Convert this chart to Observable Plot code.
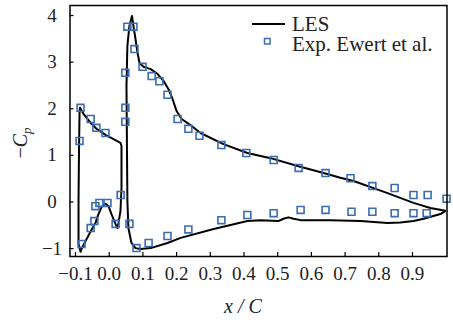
<!DOCTYPE html>
<html><head><meta charset="utf-8">
<script src="https://cdn.jsdelivr.net/npm/d3@7"></script>
<script src="https://cdn.jsdelivr.net/npm/@observablehq/plot@0.6"></script>
<style>
body{margin:0;background:#fff;}
#wrap{position:relative;width:453px;height:322px;}
#wrap svg text{font-family:'Liberation Serif','Times New Roman',serif;}
</style></head><body><div id="wrap"></div>
<script>
// LES curve, slat element (closed loop)
const slatX = [-0.085,-0.091,-0.091,-0.0896,-0.088,-0.0866,-0.0763,-0.0555,-0.0377,-0.011,0.0128,0.0335,0.0365,0.0365,0.0335,0.0276,0.0246,0.0187,0.0068,-0.002,-0.011,-0.0228,-0.0318,-0.0407,-0.0555,-0.0703,-0.0822,-0.085];
const slatY = [-1.07,-0.90,0.02,1.09,1.91,2.02,1.89,1.70,1.57,1.44,1.35,1.27,1.20,0.30,-0.19,-0.45,-0.56,-0.47,-0.26,-0.09,-0.04,-0.11,-0.26,-0.45,-0.64,-0.84,-1.01,-1.07];
// LES curve, main element
const mainX = [0.998,0.983,0.962,0.933,0.903,0.864,0.826,0.746,0.657,0.568,0.547,0.532,0.517,0.502,0.449,0.410,0.310,0.212,0.173,0.123,0.093,0.078,0.066,0.057,0.054,0.0528,0.0513,0.054,0.060,0.0677,0.072,0.078,0.084,0.090,0.102,0.123,0.143,0.161,0.176,0.188,0.200,0.215,0.241,0.271,0.339,0.410,0.479,0.559,0.636,0.686,0.725,0.826,0.903,0.953,0.998];
const mainY = [-0.19,-0.26,-0.30,-0.36,-0.41,-0.44,-0.45,-0.41,-0.39,-0.39,-0.36,-0.33,-0.36,-0.41,-0.39,-0.41,-0.58,-0.77,-0.88,-0.99,-1.01,-0.99,-0.88,-0.56,0.02,1.09,2.49,3.35,3.78,3.99,3.78,3.50,3.20,2.98,2.90,2.85,2.75,2.60,2.42,2.21,1.95,1.78,1.65,1.48,1.24,1.05,0.94,0.77,0.62,0.52,0.45,0.19,-0.02,-0.13,-0.19];
// Experiment (Ewert et al.)
const expX = [-0.085,-0.055,-0.038,-0.011,-0.088,-0.082,-0.055,-0.044,-0.041,-0.029,-0.005,0.019,0.034,
  0.048,0.048,0.054,0.072,0.075,0.048,0.099,0.126,0.149,0.173,0.203,0.235,0.268,0.333,0.407,0.488,0.562,0.642,0.716,0.781,0.847,0.903,0.945,1.001,
  0.060,0.081,0.117,0.173,0.235,0.333,0.410,0.488,0.568,0.642,0.719,0.781,0.847,0.903,0.942];
const expY = [2.02,1.78,1.59,1.48,1.31,-0.90,-0.56,-0.41,-0.09,-0.02,-0.02,-0.47,0.15,
  2.02,1.72,3.76,3.76,3.28,2.77,2.90,2.70,2.59,2.30,1.78,1.57,1.42,1.22,1.05,0.90,0.73,0.62,0.51,0.34,0.30,0.15,0.15,0.07,
  -0.47,-0.99,-0.88,-0.73,-0.59,-0.39,-0.28,-0.24,-0.17,-0.17,-0.21,-0.21,-0.24,-0.24,-0.24];
const xTicks = [-0.1,0,0.1,0.2,0.3,0.4,0.5,0.6,0.7,0.8,0.9];
const yTicks = [-1,0,1,2,3,4];
const xDomain = [-0.1163, 1.0024];
const yDomain = [-1.17, 4.215];
const seriesNames = ["LES", "Exp. Ewert et al."];

const les = [
  ...slatX.map((x,i)=>({x, y: slatY[i], z: "slat"})),
  ...mainX.map((x,i)=>({x, y: mainY[i], z: "main"}))
];
const exp = expX.map((x,i)=>({x, y: expY[i]}));
const blue = "#3a6cb4";
const font = "'Liberation Serif', 'Times New Roman', serif";
const W = 453, H = 322, mL = 69.5, mR = 6.5, mT = 5, mB = 66;
const tickLenY = 4 * (yDomain[1]-yDomain[0]) / (H - mT - mB);
const tickLenX = 4 * (xDomain[1]-xDomain[0]) / (W - mL - mR);
const fmtX = d3.format(".1f");

const chart = Plot.plot({
  width: W, height: H,
  marginLeft: mL, marginRight: mR, marginTop: mT, marginBottom: mB,
  x: {domain: xDomain, axis: null},
  y: {domain: yDomain, axis: null},
  style: {fontFamily: font, background: "white"},
  marks: [
    Plot.ruleX(xTicks, {x: d=>d, y1: yDomain[0], y2: yDomain[0] + tickLenY, stroke: "black", strokeWidth: 1.2}),
    Plot.ruleY(yTicks, {y: d=>d, x1: xDomain[0], x2: xDomain[0] + tickLenX, stroke: "black", strokeWidth: 1.2}),
    Plot.text(xTicks, {x: d=>d, y: yDomain[0], text: d=>fmtX(d), dy: 17.5, fontSize: 19, fontFamily: font, fill: "#222", lineAnchor: "middle"}),
    Plot.text(yTicks, {x: xDomain[0], y: d=>d, text: d=>d3.format("d")(d), dx: -18, fontSize: 19, fontFamily: font, fill: "#222", textAnchor: "middle", lineAnchor: "middle"}),
    Plot.line(les, {x: "x", y: "y", z: "z", stroke: "black", strokeWidth: 2}),
    Plot.dot(exp, {x: "x", y: "y", symbol: "square", r: 3.9, stroke: blue, strokeWidth: 1.6, fill: "none"}),
    Plot.frame({stroke: "black", strokeWidth: 1.5})
  ]
});
document.getElementById("wrap").appendChild(chart);

const svg = d3.select(chart);
// axis titles
svg.append("text").attr("x", 243).attr("y", 313).attr("text-anchor", "middle")
  .attr("font-family", font).attr("font-size", 20).attr("font-style", "italic").attr("fill", "#222")
  .text("x / C");
const yl = svg.append("text").attr("transform", "translate(27,143) rotate(-90)").attr("text-anchor", "middle")
  .attr("font-family", font).attr("font-size", 20).attr("fill", "#222");
yl.append("tspan").text("−");
yl.append("tspan").attr("font-style", "italic").text("C");
yl.append("tspan").attr("font-style", "italic").attr("font-size", 13).attr("dy", 4).text("p");
// legend
const lg = svg.append("g");
lg.append("line").attr("x1", 252).attr("x2", 285).attr("y1", 24).attr("y2", 24).attr("stroke", "black").attr("stroke-width", 2);
lg.append("rect").attr("x", 264.5).attr("y", 38.5).attr("width", 5.5).attr("height", 5.5).attr("fill", "none").attr("stroke", blue).attr("stroke-width", 1.5);
lg.append("text").attr("x", 292).attr("y", 31).attr("text-anchor", "start").attr("font-family", font).attr("font-size", 21).attr("fill", "#222").text(seriesNames[0]);
lg.append("text").attr("x", 292).attr("y", 50.5).attr("text-anchor", "start").attr("font-family", font).attr("font-size", 21).attr("fill", "#222").text(seriesNames[1]);
</script></body></html>
